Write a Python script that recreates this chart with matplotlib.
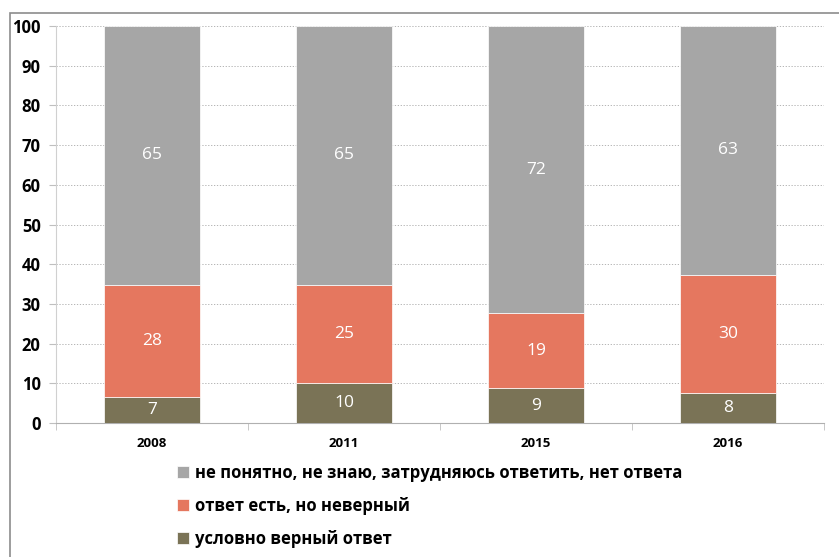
import numpy as np
import matplotlib.pyplot as plt
from matplotlib.patches import Rectangle

plt.rcParams['font.family'] = ['Open Sans', 'DejaVu Sans']

years = ["2008", "2011", "2015", "2016"]
correct = [6.6, 10.1, 8.8, 7.6]
wrong = [28.2, 24.7, 18.9, 29.7]
unknown = [65.2, 65.2, 72.3, 62.7]

labels = ["условно верный ответ",
          "ответ есть, но неверный",
          "не понятно, не знаю, затрудняюсь ответить, нет ответа"]
colors = ["#7a7356", "#e5775f", "#a6a6a6"]

fig = plt.figure(figsize=(8.39, 5.57), dpi=100)
ax = fig.add_axes([56 / 839, 1 - 423 / 557, 768 / 839, 397 / 557])

# frame around the chart
fig.patches.append(Rectangle((10 / 839, -0.1), 1.2, (557 - 13) / 557 + 0.1,
                             transform=fig.transFigure, fill=False,
                             edgecolor="#8c8c8c", linewidth=1.2))

x = np.arange(len(years))
bottom = np.zeros(len(years))
for vals, col, lab in zip([correct, wrong, unknown], colors, labels):
    ax.bar(x, vals, 0.5, bottom=bottom, color=col, label=lab, zorder=3,
           edgecolor="white", linewidth=0.5)
    for xi, v, bt in zip(x, vals, bottom):
        ax.text(xi, bt + v / 2, f"{v:.0f}", ha="center", va="center",
                color="white", fontsize=12.5, zorder=4)
    bottom += np.array(vals)

ax.set_xlim(-0.5, 3.5)
ax.set_ylim(0, 100)
ax.set_yticks(range(0, 101, 10))
ax.set_xticks(x)
ax.set_xticklabels(years, fontweight="bold", fontsize=9.5)
ax.set_xticks(np.arange(-0.5, 4, 1), minor=True)
ax.tick_params(axis="x", which="major", length=0, pad=10)
ax.tick_params(axis="x", which="minor", length=5, color="#bfbfbf")
ax.tick_params(axis="y", length=5, color="#bfbfbf", labelsize=12, pad=6)
for t in ax.get_yticklabels():
    t.set_fontweight("bold")

ax.grid(axis="y", linestyle=(0, (1.5, 2)), color="#a8a8a8", linewidth=0.6, zorder=0)
for s in ["top", "right"]:
    ax.spines[s].set_visible(False)
ax.spines["left"].set_color("#d0d0d0")
ax.spines["bottom"].set_color("#b0b0b0")

h, l = ax.get_legend_handles_labels()
fig.legend(h[::-1], l[::-1], loc="upper left",
           bbox_to_anchor=(162 / 839, 1 - 449 / 557), frameon=False,
           prop={"weight": "bold", "size": 12}, handlelength=0.7,
           handleheight=0.7, handletextpad=0.4, labelspacing=0.9)

fig.savefig("out.png", dpi=100)
